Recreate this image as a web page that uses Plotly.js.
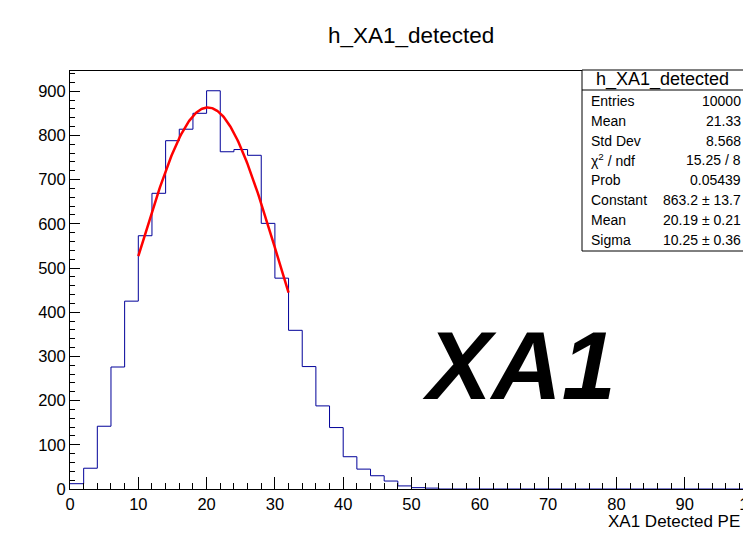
<!DOCTYPE html>
<html>
<head>
<meta charset="utf-8">
<script src="https://cdn.plot.ly/plotly-3.0.1.min.js"></script>
<style>
html,body{margin:0;padding:0;overflow:hidden;background:#fff;width:743px;height:533px;}
#chart{width:800px;height:533px;}
</style>
</head>
<body>
<div id="chart"></div>
<script>
// Histogram h_XA1_detected: bin low edges (width 2) and counts
const binEdges = [0,2,4,6,8,10,12,14,16,18,20,22,24,26,28,30,32,34,36,38,40,42,44,46,48,50,52,54,56,58,60,62,64,66,68,70,72,74,76,78,80,82,84,86,88,90,92,94,96,98,100];
const binCounts = [12,47,142,276,425,573,669,788,814,850,901,763,768,755,601,477,359,277,188,139,73,45,30,18,7,3,2,0,0,0,0,0,0,0,0,0,0,0,0,0,0,0,0,0,0,0,0,0,0,0];

// Gaussian fit parameters [Constant, Mean, Sigma] and fit range
const fitParams = [863.2, 20.19, 10.25];
const fitRange = [10, 32];

// Stats box
const statsTitle = "h_XA1_detected";
const statsLabels = ["Entries","Mean","Std Dev","\u03c7<sup>2</sup> / ndf","Prob","Constant","Mean","Sigma"];
const statsValues = ["10000","21.33","8.568","15.25 / 8","0.05439","863.2 \u00b1 13.7","20.19 \u00b1 0.21","10.25 \u00b1 0.36"];

const xTickVals = [0,10,20,30,40,50,60,70,80,90,100];
const yTickVals = [0,100,200,300,400,500,600,700,800,900];

// histogram outline (step)
const hx = binEdges.slice();
const hy = binCounts.concat([binCounts[binCounts.length-1]]);

// fit curve
const fx = [], fy = [];
const nPts = 200;
for (let i = 0; i <= nPts; i++) {
  const x = fitRange[0] + (fitRange[1]-fitRange[0]) * i / nPts;
  fx.push(x);
  fy.push(fitParams[0] * Math.exp(-0.5 * Math.pow((x - fitParams[1]) / fitParams[2], 2)));
}

const W = 800, H = 533;
const L = 70, R = 753, T = 71, B = 489;
const px = v => (v - L) / (R - L);
const py = v => (B - v) / (B - T);

const FONT = "Liberation Sans, Arial, Helvetica, sans-serif";

const annotations = [];
// title
annotations.push({xref:'paper', yref:'paper', x:px(411), y:py(35), xanchor:'center', yanchor:'middle',
  text:"h_XA1_detected", showarrow:false, font:{family:FONT, size:22.5, color:'#000'}});
// x axis title
annotations.push({xref:'paper', yref:'paper', x:px(742), y:py(521), xanchor:'right', yanchor:'middle',
  text:"XA1 Detected PE", showarrow:false, font:{family:FONT, size:17, color:'#000'}});
// big label
annotations.push({xref:'paper', yref:'paper', x:px(519), y:py(365), xanchor:'center', yanchor:'middle',
  text:"<b><i>XA1</i></b>", showarrow:false, font:{family:FONT, size:97, color:'#000'}});
// stats box
annotations.push({xref:'paper', yref:'paper', x:px(662), y:py(80), xanchor:'center', yanchor:'middle',
  text:statsTitle, showarrow:false, font:{family:FONT, size:18, color:'#000'}});
for (let i = 0; i < statsLabels.length; i++) {
  const yy = 101 + i * 19.8;
  annotations.push({xref:'paper', yref:'paper', x:px(589), y:py(yy), xanchor:'left', yanchor:'middle',
    text:statsLabels[i], showarrow:false, font:{family:FONT, size:14, color:'#000'}});
  annotations.push({xref:'paper', yref:'paper', x:px(743), y:py(yy), xanchor:'right', yanchor:'middle',
    text:statsValues[i], showarrow:false, font:{family:FONT, size:14, color:'#000'}});
}

const shapes = [
  {type:'rect', xref:'paper', yref:'paper', x0:px(582), x1:px(790), y0:py(251), y1:py(70),
   line:{color:'#000', width:1}, fillcolor:'#fff', layer:'above'},
  {type:'line', xref:'paper', yref:'paper', x0:px(582), x1:px(790), y0:py(90), y1:py(90),
   line:{color:'#000', width:1}, layer:'above'}
];

const data = [
  {x:hx, y:hy, type:'scatter', mode:'lines', line:{shape:'hv', color:'rgb(0,0,153)', width:1},
   hoverinfo:'skip'},
  {x:fx, y:fy, type:'scatter', mode:'lines', line:{color:'#ff0000', width:2.5}, hoverinfo:'skip'}
];

const axisCommon = {
  showgrid:false, zeroline:false, showline:true, mirror:true, linecolor:'#000', linewidth:1,
  ticks:'inside', tickcolor:'#000', tickwidth:1,
  tickfont:{family:FONT, size:16.5, color:'#000'}
};

const layout = {
  width:W, height:H,
  margin:{l:L, r:W-R, t:T, b:H-B, pad:0},
  paper_bgcolor:'#fff', plot_bgcolor:'#fff',
  showlegend:false,
  xaxis:Object.assign({}, axisCommon, {range:[0,100], tickmode:'array', tickvals:xTickVals,
    ticklen:12, minor:{dtick:2, ticklen:6, ticks:'inside', tickcolor:'#000', tickwidth:1}}),
  yaxis:Object.assign({}, axisCommon, {range:[0,945.7], tickmode:'array', tickvals:yTickVals,
    ticklen:10, minor:{dtick:20, ticklen:5, ticks:'inside', tickcolor:'#000', tickwidth:1}}),
  annotations:annotations,
  shapes:shapes
};

Plotly.newPlot('chart', data, layout, {staticPlot:true, displayModeBar:false});
</script>
</body>
</html>
